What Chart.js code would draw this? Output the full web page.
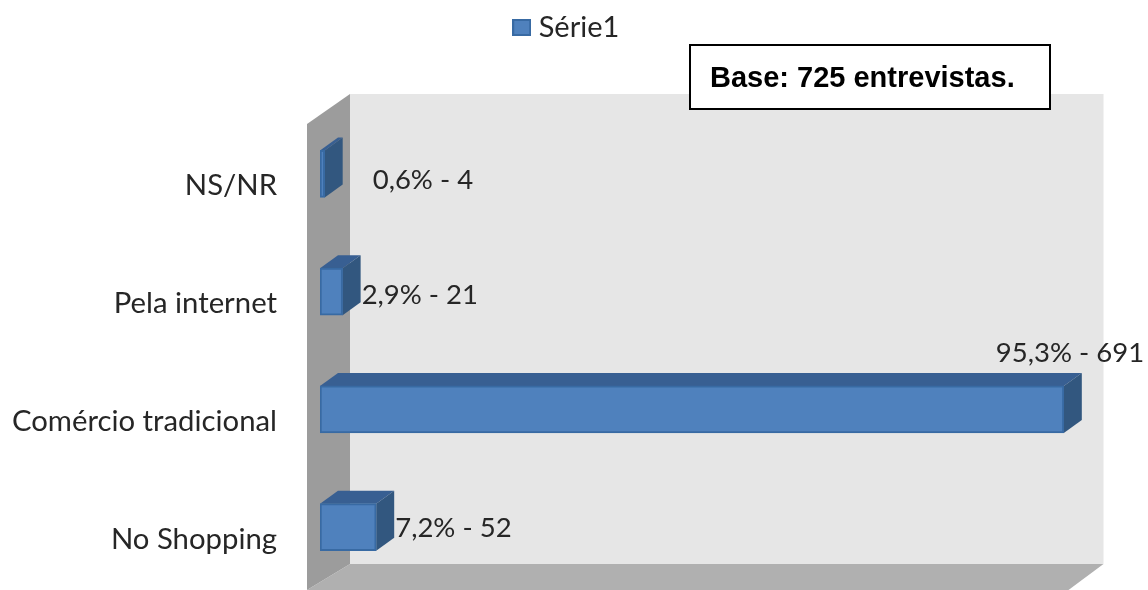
<!DOCTYPE html>
<html>
<head>
<meta charset="utf-8">
<style>html,body{margin:0;padding:0;background:#fff}canvas{display:block}</style>
<script src="https://cdn.jsdelivr.net/npm/chart.js@4"></script>
</head>
<body>
<canvas id="c" width="1148" height="590"></canvas>
<script>
const categories = ["NS/NR", "Pela internet", "Comércio tradicional", "No Shopping"];
const percentages = [0.6, 2.9, 95.3, 7.2];
const counts = [4, 21, 691, 52];
const seriesName = "Série1";
const noteText = "Base: 725 entrevistas.";

const FONT = "Lato";
const TEXT = "#262626";
const BAR_FILL = "#4f81bd", BAR_EDGE = "#386aa3";
const DEPTH_X = 18, DEPTH_Y = 13;
const labelOffsets = [[48, 6], [19, 3], [-68, -56], [19, 1]];

const swatch = document.createElement("canvas");
swatch.width = 19; swatch.height = 17;
(function () {
  const s = swatch.getContext("2d");
  s.fillStyle = BAR_FILL; s.fillRect(0, 0, 19, 17);
  s.strokeStyle = BAR_EDGE; s.lineWidth = 2; s.strokeRect(1, 1, 17, 15);
})();

function poly(ctx, pts, fill) {
  ctx.beginPath();
  pts.forEach((p, i) => i ? ctx.lineTo(p[0], p[1]) : ctx.moveTo(p[0], p[1]));
  ctx.closePath();
  ctx.fillStyle = fill;
  ctx.fill();
}

const walls = {
  id: "walls",
  beforeDatasetsDraw(chart) {
    const { ctx, chartArea: a } = chart;
    const backL = a.left + 30, backR = a.right + 3, backT = a.top - 21, backB = a.bottom - 22;
    const frontL = a.left - 13, h = chart.height;
    ctx.save();
    poly(ctx, [[backL, backT], [backR, backT], [backR, backB], [backL, backB]], "#e6e6e6");
    poly(ctx, [[backL, backB], [backR, backB], [backR - 35, h], [frontL, h]], "#b0b0b0");
    poly(ctx, [[frontL, backT + 30], [backL, backT], [backL, backB], [frontL, h]], "#9c9c9c");
    const meta = chart.getDatasetMeta(0);
    meta.data.forEach(bar => {
      const x0 = bar.base, x1 = bar.x, t = bar.y - bar.height / 2, b = bar.y + bar.height / 2;
      poly(ctx, [[x0, t], [x0 + DEPTH_X, t - DEPTH_Y], [x1 + DEPTH_X, t - DEPTH_Y], [x1, t]], "#385f92");
      poly(ctx, [[x1, t], [x1 + DEPTH_X, t - DEPTH_Y], [x1 + DEPTH_X, b - DEPTH_Y], [x1, b]], "#32577f");
    });
    ctx.restore();
  },
  afterDatasetsDraw(chart) {
    const { ctx } = chart;
    const meta = chart.getDatasetMeta(0);
    ctx.save();
    ctx.font = "27.5px " + FONT;
    ctx.fillStyle = TEXT;
    ctx.textAlign = "left";
    ctx.textBaseline = "middle";
    meta.data.forEach((bar, i) => {
      const txt = percentages[i].toFixed(1).replace(".", ",") + "% - " + counts[i];
      ctx.fillText(txt, bar.x + labelOffsets[i][0], bar.y + labelOffsets[i][1]);
    });
    ctx.fillStyle = "#fff";
    ctx.strokeStyle = "#000";
    ctx.lineWidth = 2;
    ctx.fillRect(690, 45, 360, 64);
    ctx.strokeRect(690, 45, 360, 64);
    ctx.fillStyle = "#000";
    ctx.font = "bold 29px 'Liberation Sans'";
    ctx.fillText(noteText, 710, 79);
    ctx.restore();
  },
  afterLayout(chart) {
    const l = chart.legend;
    l.top = 3;
    l.left += 19;
    l.right += 19;
  }
};

new Chart(document.getElementById("c"), {
  type: "bar",
  data: {
    labels: categories,
    datasets: [{
      label: seriesName,
      data: percentages,
      backgroundColor: BAR_FILL,
      borderColor: BAR_EDGE,
      borderWidth: 2,
      borderSkipped: false,
      barThickness: 47
    }]
  },
  plugins: [walls],
  options: {
    indexAxis: "y",
    responsive: false,
    animation: false,
    layout: { padding: { top: 66, right: 47.5, bottom: 4, left: 0 } },
    plugins: {
      tooltip: { enabled: false },
      legend: {
        position: "top",
        labels: {
          usePointStyle: true,
          pointStyle: swatch,
          pointStyleWidth: 5,
          padding: 10,
          color: TEXT,
          font: { family: FONT, size: 29 }
        }
      }
    },
    scales: {
      x: { display: false, min: 0, max: 100 },
      y: {
        grid: { display: true, drawOnChartArea: false, drawTicks: true, tickLength: 43, tickColor: "rgba(0,0,0,0)" },
        border: { display: false },
        afterFit(s) { s.width = 320; s.paddingTop = 0; s.paddingBottom = 0; },
        ticks: {
          padding: 0,
          labelOffset: 12,
          color: TEXT,
          font: { family: FONT, size: 29.3 }
        }
      }
    }
  }
});
</script>
</body>
</html>
